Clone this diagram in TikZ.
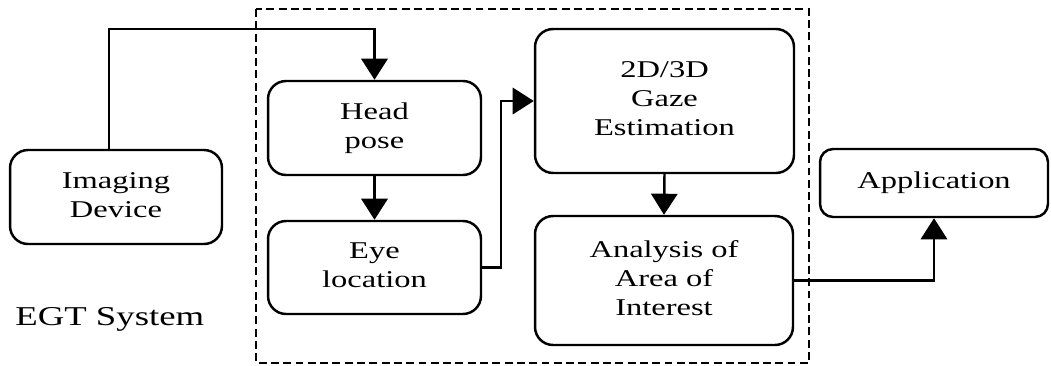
\documentclass[tikz,border=0pt]{standalone}
\usepackage{fontspec}
\setmainfont{Liberation Serif}[FakeStretch=1.35]
\usetikzlibrary{arrows.meta}
\begin{document}
\begin{tikzpicture}[x=0.02cm, y=-0.02cm,
            stage/.style={rectangle, draw, line width=1.4pt, rounded corners=0.36cm, font=\fontsize{13.7}{16.5}\selectfont},
            flow/.style={line width=1.4pt, -{Triangle[length=12pt, width=15pt]}},
            outer/.style={draw, line width=0.9pt, dash pattern=on 4.5pt off 2.5pt},
        ]
            \useasboundingbox (0,0) rectangle (1051,365);
            \draw[outer] (256,9) rectangle (809,363);
            \node(imgnode) at (116,197) [stage, minimum width=4.24cm, minimum height=1.88cm] {\begin{tabular}{c} Imaging \\ Device \end{tabular}};
            \node(headnode) at (374.5,128) [stage, minimum width=4.26cm, minimum height=1.88cm] {\begin{tabular}{c} Head \\ pose \end{tabular}};
            \node(eyenode) at (374.5,267.5) [stage, minimum width=4.26cm, minimum height=1.86cm] {\begin{tabular}{c} Eye \\ location \end{tabular}};
            \node(gazenode) at (664.5,101) [stage, minimum width=5.18cm, minimum height=2.88cm] {\begin{tabular}{c} 2D/3D \\ Gaze \\ Estimation \end{tabular}};
            \node(aoinode) at (664,280.5) [stage, minimum width=5.16cm, minimum height=2.58cm] {\begin{tabular}{c} Analysis of \\ Area of \\ Interest \end{tabular}};
            \node(appnode) at (934,183) [stage, rounded corners=0.26cm, minimum width=4.56cm, minimum height=1.36cm] {Application};
            \node(egtlabel) at (15,325) [anchor=base west, inner sep=0pt, font=\fontsize{15.5}{18}\selectfont] {EGT System};
            \draw[flow] ([xshift=-0.14cm]imgnode.north) |- (headnode.north |- 0,29) -- (headnode.north);
            \draw[flow] (headnode.south) -- (eyenode.north);
            \draw[flow] (eyenode.east) -- ++(19,0) |- (gazenode.west);
            \draw[flow] (gazenode.south) -- (aoinode.north);
            \draw[flow] (aoinode.east) -| (appnode.south);
        \end{tikzpicture}
\end{document}
